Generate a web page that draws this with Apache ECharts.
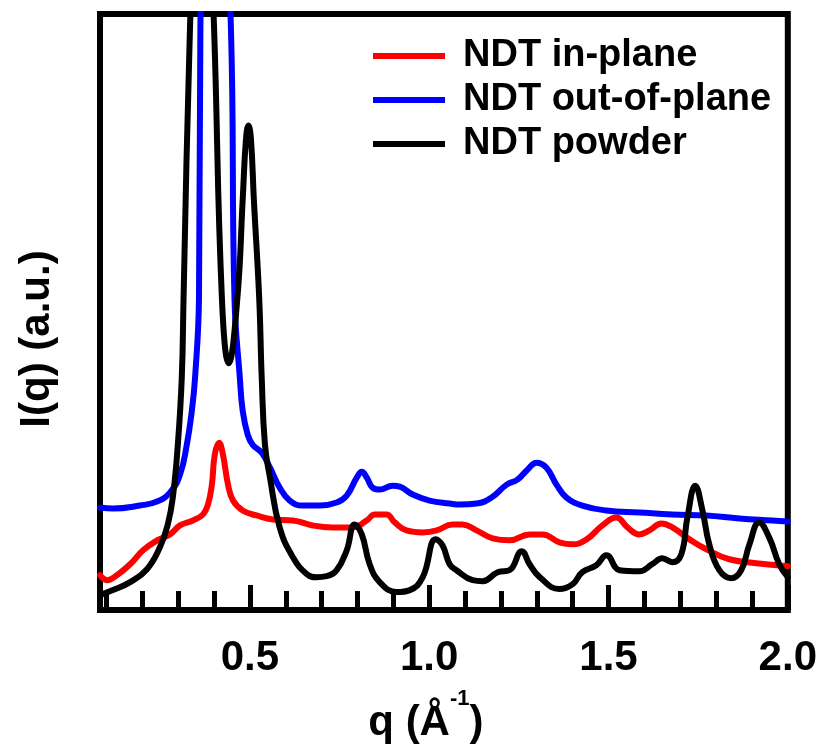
<!DOCTYPE html>
<html>
<head>
<meta charset="utf-8">
<script src="https://cdn.jsdelivr.net/npm/echarts@6/dist/echarts.min.js"></script>
<style>
html,body{margin:0;padding:0;background:#fff;}
#chart{width:820px;height:749px;}
</style>
</head>
<body>
<div id="chart"></div>
<script>
// ---- data (q in 1/Å, intensity in a.u.) ----
const qInPlane = [0.082,0.102,0.129,0.166,0.202,0.241,0.277,0.305,0.341,0.369,0.383,0.394,0.402,0.414,0.425,0.439,0.453,0.480,0.519,0.564,0.620,0.675,0.731,0.787,0.826,0.848,0.881,0.904,0.937,0.982,1.021,1.065,1.093,1.132,1.177,1.224,1.280,1.316,1.363,1.400,1.439,1.483,1.522,1.553,1.586,1.614,1.648,1.678,1.726,1.773,1.837,1.912,2.000];
const iInPlane = [3.5,3.0,3.5,4.6,6.0,7.0,7.6,8.5,9.0,9.6,10.6,12.6,15.6,16.8,15.6,12.6,11.0,10.0,9.5,9.1,9.0,8.5,8.3,8.3,9.0,9.6,9.6,8.8,8.0,7.8,8.0,8.6,8.6,8.0,7.2,7.0,7.6,7.6,6.8,6.6,7.1,8.5,9.3,8.3,7.6,8.0,8.7,8.3,7.1,6.1,5.1,4.7,4.4];

const qOutOfPlane = [0.082,0.118,0.193,0.241,0.277,0.305,0.324,0.338,0.347,0.358,0.362,0.402,0.447,0.457,0.472,0.480,0.494,0.508,0.533,0.556,0.583,0.611,0.647,0.695,0.742,0.770,0.798,0.812,0.826,0.842,0.862,0.898,0.918,0.954,1.001,1.057,1.085,1.132,1.174,1.216,1.246,1.274,1.299,1.327,1.355,1.383,1.427,1.494,1.586,1.678,1.773,1.865,1.957,2.000];
const iOutOfPlane = [10.3,10.2,10.5,10.9,11.8,13.6,16.6,20.0,23.3,31.3,58.6,101.3,58.6,31.3,23.3,20.0,17.6,16.6,15.8,14.3,12.3,11.0,10.5,10.5,10.8,11.5,13.3,13.9,13.3,12.3,12.1,12.5,12.4,11.6,11.0,10.7,10.6,10.7,11.3,12.6,13.1,14.1,14.8,14.3,12.6,11.3,10.5,10.0,9.8,9.6,9.5,9.2,9.0,8.9];

const qPowder = [0.082,0.118,0.166,0.213,0.249,0.271,0.285,0.299,0.310,0.315,0.333,0.366,0.400,0.422,0.441,0.465,0.480,0.489,0.496,0.503,0.511,0.526,0.533,0.542,0.556,0.583,0.620,0.659,0.686,0.714,0.742,0.770,0.792,0.812,0.834,0.862,0.909,0.946,0.982,1.018,1.037,1.057,1.076,1.121,1.149,1.191,1.224,1.258,1.280,1.308,1.363,1.400,1.427,1.466,1.494,1.531,1.586,1.622,1.650,1.678,1.703,1.720,1.742,1.762,1.781,1.809,1.842,1.870,1.893,1.920,1.948,1.976,2.000];
const iPowder = [1.5,2.0,2.8,4.1,6.3,8.6,11.3,16.6,23.3,31.3,58.6,91.3,58.6,31.3,24.8,31.3,41.3,47.3,48.7,47.3,41.3,31.3,23.3,16.6,13.3,8.3,5.3,3.6,3.3,3.4,4.0,6.0,8.6,7.6,4.6,2.8,1.8,2.0,3.3,7.1,6.5,4.6,4.0,3.0,2.9,3.8,4.0,5.9,4.6,3.3,2.1,2.6,3.8,4.5,5.5,4.0,3.9,4.6,5.2,4.8,5.6,9.3,12.5,10.0,6.6,4.0,3.2,4.0,6.6,8.8,7.3,4.6,3.3];

const seriesNames = ['NDT in-plane','NDT out-of-plane','NDT powder'];
const seriesColors = ['#ff0000','#0000ff','#000000'];
const majorTicks = [0.5,1.0,1.5,2.0];
const minorTicks = [0.1,0.2,0.3,0.4,0.6,0.7,0.8,0.9,1.1,1.2,1.3,1.4,1.6,1.7,1.8,1.9];
const xMin = 0.082, xMax = 2.0, yMin = 0, yMax = 59.9;

const FONT = 'Liberation Sans, Arial, Helvetica, sans-serif';
const zip = (a,b) => a.map((v,i)=>[v,b[i]]);
const dataSets = [zip(qInPlane,iInPlane), zip(qOutOfPlane,iOutOfPlane), zip(qPowder,iPowder)];

const chart = echarts.init(document.getElementById('chart'), null, {renderer:'canvas'});
chart.setOption({
  animation:false,
  backgroundColor:'#ffffff',
  grid:{left:100,right:32,top:14,bottom:136,show:true,borderColor:'#000',borderWidth:6,backgroundColor:'transparent'},
  legend:{
    orient:'vertical', left:373, top:37, padding:0, itemWidth:72, itemHeight:6, itemGap:6,
    icon:'rect',
    textStyle:{fontFamily:FONT,fontSize:38,fontWeight:'bold',color:'#000',padding:[0,0,0,13]},
    data:seriesNames
  },
  xAxis:[{
    type:'value', min:xMin, max:xMax, gridIndex:0, position:'bottom',
    axisLine:{show:false},
    splitLine:{show:false},
    axisTick:{show:true,inside:true,length:25,lineStyle:{color:'#000',width:5},customValues:majorTicks},
    axisLabel:{show:true,customValues:majorTicks,formatter:v=>Number(v).toFixed(1),
      fontFamily:FONT,fontSize:42,fontWeight:'bold',color:'#000',margin:27},
    name:'{b|q (Å}{sup|-1}{b|)}',
    nameLocation:'middle', nameGap:78,
    nameTextStyle:{padding:[0,36,0,0],
      rich:{
        b:{fontFamily:FONT,fontSize:42,fontWeight:'bold',color:'#000',lineHeight:56,verticalAlign:'bottom'},
        sup:{fontFamily:FONT,fontSize:22,fontWeight:'bold',color:'#000',lineHeight:24,verticalAlign:'top'}
      }}
  },{
    type:'value', min:xMin, max:xMax, gridIndex:0, position:'bottom',
    axisLine:{show:false}, splitLine:{show:false}, axisLabel:{show:false},
    axisTick:{show:true,inside:true,length:19,lineStyle:{color:'#000',width:5},customValues:minorTicks}
  }],
  yAxis:{
    type:'value', min:yMin, max:yMax,
    axisLine:{show:false}, axisTick:{show:false}, axisLabel:{show:false}, splitLine:{show:false},
    name:'I(q) (a.u.)', nameLocation:'middle', nameGap:42,
    nameTextStyle:{fontFamily:FONT,fontSize:42,fontWeight:'bold',color:'#000',padding:[0,54,0,0]}
  },
  series:seriesNames.map((n,i)=>({
    name:n, type:'line', xAxisIndex:0, yAxisIndex:0,
    data:dataSets[i], showSymbol:false, symbol:'none',
    smooth:0.45, clip:true,
    lineStyle:{color:seriesColors[i],width:6,join:'round',cap:'round'},
    itemStyle:{color:seriesColors[i]},
    z: 2+i
  }))
});
</script>
</body>
</html>
